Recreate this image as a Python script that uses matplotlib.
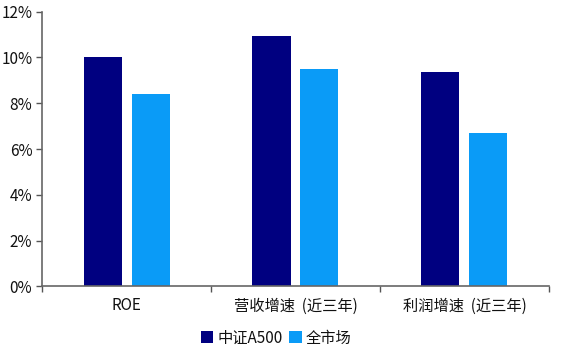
import matplotlib
matplotlib.use("Agg")
import matplotlib.pyplot as plt
import numpy as np
from matplotlib.ticker import FuncFormatter, FixedLocator

plt.rcParams['font.family'] = ['Noto Sans CJK SC', 'DejaVu Sans']

categories = ["ROE", "营收增速  (近三年)", "利润增速  (近三年)"]
series_names = ["中证A500", "全市场"]
a500 = [10.0, 10.95, 9.35]
market = [8.4, 9.5, 6.7]
colors = ["#000080", "#0A9BF7"]

fig = plt.figure(figsize=(5.76, 3.54), dpi=100)
ax = fig.add_axes([0.073, 0.191, 0.880, 0.776])

x = np.arange(len(categories))
w = 0.225
off = 0.142
ax.bar(x - off, a500, width=w, color=colors[0], label=series_names[0])
ax.bar(x + off, market, width=w, color=colors[1], label=series_names[1])

ax.set_xlim(-0.5, len(categories) - 0.5)
ax.set_ylim(0, 12)
ax.set_yticks(np.arange(0, 13, 2))
ax.yaxis.set_major_formatter(FuncFormatter(lambda v, p: f"{v:.0f}%"))
ax.set_xticks(x)
ax.set_xticklabels(categories)
ax.xaxis.set_minor_locator(FixedLocator(np.arange(-0.5, len(categories), 1.0)))
ax.tick_params(axis='x', which='major', length=0, pad=8, labelsize=11, colors='#111111')
ax.tick_params(axis='x', which='minor', length=4, width=1, color='#555555', direction='out')
ax.tick_params(axis='y', length=4, width=1, color='#555555', labelsize=11, labelcolor='#111111', pad=3)

for s in ['top', 'right']:
    ax.spines[s].set_visible(False)
for s in ['left', 'bottom']:
    ax.spines[s].set_color('#666666')
    ax.spines[s].set_linewidth(1.2)

fig.legend(loc='center', bbox_to_anchor=(0.48, 0.045), ncol=2, frameon=False,
           fontsize=11, handlelength=0.8, handleheight=0.8, handletextpad=0.3,
           columnspacing=0.4, labelcolor='#111111')

fig.savefig("out.png", dpi=100)
